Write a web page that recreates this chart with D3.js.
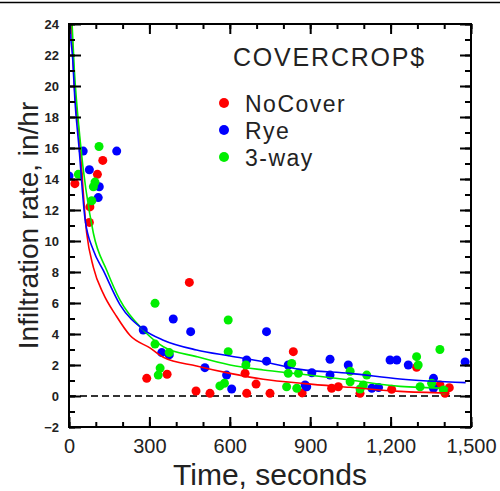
<!DOCTYPE html>
<html>
<head>
<meta charset="utf-8">
<script src="https://cdn.jsdelivr.net/npm/d3@7"></script>
<style>
  body { margin: 0; background: #fff; }
  svg { display: block; font-family: "Liberation Sans", Arial, sans-serif; }
</style>
</head>
<body>
<div id="chart-area"></div>
<script>
// infiltration rate vs time, three cover crop treatments

const MARGIN = { LEFT: 69, RIGHT: 29, TOP: 24, BOTTOM: 64 }
const WIDTH = 500 - MARGIN.LEFT - MARGIN.RIGHT
const HEIGHT = 491 - MARGIN.TOP - MARGIN.BOTTOM

const groups = ["NoCover", "Rye", "3-way"]
const groupColors = ["#ff0000", "#0000ff", "#00ee00"]

// [time s, rate in/hr]
const noCoverPts = [
	[22, 13.7], [76, 11.2], [78, 12.2], [106, 14.3], [126, 15.2],
	[290, 1.14], [366, 1.4], [449, 7.33], [474, 0.32], [526, 0.17],
	[657, 1.46], [663, 0.17], [698, 0.77], [750, 0.17], [837, 2.86],
	[870, 0.2], [980, 0.5], [1005, 0.6], [1086, 0.17], [1204, 0.43],
	[1297, 1.85], [1384, 0.71], [1419, 0.54], [1403, 0.17]
]
const ryePts = [
	[0, 14.2], [53, 15.8], [76, 14.6], [113, 13.5], [109, 12.8], [178, 15.8],
	[277, 4.26], [346, 2.8], [374, 2.65], [389, 4.97], [454, 4.15], [507, 1.83],
	[588, 1.35], [607, 0.45], [663, 2.32], [737, 4.15], [737, 2.25], [818, 2.0],
	[881, 0.71], [887, 0.6], [906, 1.5], [974, 2.37], [974, 1.35], [1042, 2.0],
	[1130, 0.5], [1155, 0.55], [1198, 2.32], [1223, 2.32], [1266, 2.0],
	[1360, 1.14], [1360, 0.5], [1478, 2.2]
]
const threeWayPts = [
	[35, 14.3], [112, 16.1], [97, 13.8], [91, 13.5], [85, 12.6],
	[321, 5.98], [321, 3.35], [340, 1.8], [333, 1.35], [374, 2.8],
	[563, 0.65], [580, 0.82], [594, 4.9], [594, 2.86], [660, 2.0],
	[812, 0.6], [818, 1.46], [831, 2.1], [850, 0.5], [856, 1.46],
	[1049, 1.6], [1049, 0.92], [1086, 0.45], [1098, 0.71], [1111, 1.35],
	[1297, 2.54], [1303, 2.0], [1310, 0.6], [1353, 0.82], [1384, 3.0], [1397, 0.39]
]

// fitted curves
const noCoverFit = [
	[3, 27], [22, 19.5], [35, 17.4], [66, 10.5], [91, 8.3], [128, 6.6],
	[175, 5.2], [228, 3.9], [302, 3.1], [352, 2.5], [476, 1.94], [601, 1.46],
	[725, 1.08], [880, 0.8], [1049, 0.56], [1235, 0.3], [1415, 0.2]
]
const ryeFit = [
	[2, 26], [4, 24], [14, 21.7], [22, 19.1], [37, 16.1], [60, 11.4],
	[91, 9.4], [128, 8.1], [190, 5.9], [277, 4.3], [352, 3.6], [476, 2.97],
	[601, 2.58], [725, 2.21], [862, 1.72], [1049, 1.46], [1235, 1.1], [1480, 0.86]
]
const threeWayFit = [
	[3, 27], [20, 21], [41, 16.6], [91, 10.5], [141, 8.1], [190, 6.2],
	[277, 4.26], [352, 3.18], [476, 2.54], [601, 2.0], [725, 1.68],
	[862, 1.42], [1049, 1.03], [1235, 0.62], [1415, 0.5]
]

const xTicks = [0, 300, 600, 900, 1200, 1500]
const xTickLabels = ["0", "300", "600", "900", "1,200", "1,500"]
const xMinor = d3.range(0, 1501, 100)
const yTicks = d3.range(-2, 25, 2)
const yMinor = d3.range(-2, 25, 1)

const svg = d3.select("#chart-area")
	.append("svg")
	.attr("width", 500)
	.attr("height", 491)

// thin rule along the very top of the picture
svg.append("line")
	.attr("x1", 0).attr("x2", 500)
	.attr("y1", 2.5).attr("y2", 2.5)
	.attr("stroke", "#000")
	.attr("stroke-width", 1.5)

const g = svg.append("g")
	.attr("transform", `translate(${MARGIN.LEFT}, ${MARGIN.TOP})`)

const x = d3.scaleLinear().domain([0, 1500]).range([0, WIDTH])
const y = d3.scaleLinear().domain([-2, 24]).range([HEIGHT, 0])

g.append("clipPath").attr("id", "clip")
	.append("rect").attr("width", WIDTH).attr("height", HEIGHT)

// zero line
g.append("line")
	.attr("x1", 0).attr("x2", WIDTH)
	.attr("y1", y(0)).attr("y2", y(0))
	.attr("stroke", "#333")
	.attr("stroke-width", 2)
	.attr("stroke-dasharray", "7,4")

const plot = g.append("g").attr("clip-path", "url(#clip)")

const allPts = [noCoverPts, ryePts, threeWayPts]
allPts.forEach((pts, i) => {
	plot.selectAll(null)
		.data(pts)
		.enter()
		.append("circle")
		.attr("cx", d => x(d[0]))
		.attr("cy", d => y(d[1]))
		.attr("r", 4.5)
		.attr("fill", groupColors[i])
})

const line = d3.line()
	.x(d => x(d[0]))
	.y(d => y(d[1]))
	.curve(d3.curveMonotoneX)

const fits = [noCoverFit, threeWayFit, ryeFit]
const fitColors = [groupColors[0], groupColors[2], groupColors[1]]
fits.forEach((f, i) => {
	plot.append("path")
		.datum(f)
		.attr("d", line)
		.attr("fill", "none")
		.attr("stroke", fitColors[i])
		.attr("stroke-width", 1.6)
})

// axes: ticks point inward on all four sides
function styleAxis(sel) {
	sel.select(".domain").remove()
	sel.selectAll(".tick line").attr("stroke", "#000").attr("stroke-width", 2)
}

const xAxisGroup = g.append("g")
	.attr("transform", `translate(0, ${HEIGHT})`)
	.call(d3.axisBottom(x).tickValues(xTicks).tickSize(-10).tickPadding(12)
		.tickFormat((d, i) => xTickLabels[i]))
xAxisGroup.call(styleAxis)
xAxisGroup.selectAll("text")
	.attr("font-size", 20)
	.attr("fill", "#222")
	.attr("font-family", "Liberation Sans, Arial, sans-serif")

g.append("g")
	.attr("transform", `translate(0, ${HEIGHT})`)
	.call(d3.axisBottom(x).tickValues(xMinor).tickSize(-5).tickFormat(""))
	.call(styleAxis)

g.append("g")
	.call(d3.axisTop(x).tickValues(xTicks).tickSize(-10).tickFormat(""))
	.call(styleAxis)
g.append("g")
	.call(d3.axisTop(x).tickValues(xMinor).tickSize(-5).tickFormat(""))
	.call(styleAxis)

const yAxisGroup = g.append("g")
	.call(d3.axisLeft(y).tickValues(yTicks).tickSize(-12).tickPadding(10))
yAxisGroup.call(styleAxis)
yAxisGroup.selectAll("text")
	.attr("font-size", 13)
	.attr("font-weight", "bold")
	.attr("fill", "#222")
	.attr("font-family", "Liberation Sans, Arial, sans-serif")

g.append("g")
	.call(d3.axisLeft(y).tickValues(yMinor).tickSize(-6).tickFormat(""))
	.call(styleAxis)

g.append("g")
	.attr("transform", `translate(${WIDTH}, 0)`)
	.call(d3.axisRight(y).tickValues(yTicks).tickSize(-11).tickFormat(""))
	.call(styleAxis)
g.append("g")
	.attr("transform", `translate(${WIDTH}, 0)`)
	.call(d3.axisRight(y).tickValues(yMinor).tickSize(-6).tickFormat(""))
	.call(styleAxis)

// frame
g.append("rect")
	.attr("width", WIDTH)
	.attr("height", HEIGHT)
	.attr("fill", "none")
	.attr("stroke", "#000")
	.attr("stroke-width", 2)

// axis titles
svg.append("text")
	.attr("x", MARGIN.LEFT + WIDTH / 2)
	.attr("y", 485)
	.attr("text-anchor", "middle")
	.attr("font-size", 30)
	.attr("fill", "#222")
	.text("Time, seconds")

svg.append("text")
	.attr("transform", `translate(38, ${MARGIN.TOP + HEIGHT / 2}) rotate(-90)`)
	.attr("text-anchor", "middle")
	.attr("font-size", 28)
	.attr("fill", "#222")
	.text("Infiltration rate, in/hr")

// legend
svg.append("text")
	.attr("x", 233)
	.attr("y", 66)
	.attr("font-size", 25)
	.attr("letter-spacing", 1.8)
	.attr("fill", "#222")
	.text("COVERCROP$")

const legendY = [112, 139, 166]
groups.forEach((name, i) => {
	svg.append("circle")
		.attr("cx", 224)
		.attr("cy", legendY[i] - 9)
		.attr("r", 5)
		.attr("fill", groupColors[i])
	svg.append("text")
		.attr("x", 245)
		.attr("y", legendY[i])
		.attr("font-size", 23)
		.attr("letter-spacing", 1.5)
		.attr("fill", "#222")
		.text(name)
})
</script>
</body>
</html>
